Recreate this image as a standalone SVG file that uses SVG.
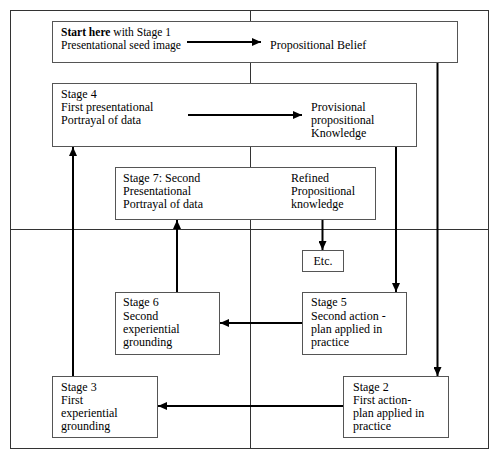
<svg xmlns="http://www.w3.org/2000/svg" width="500" height="458" viewBox="0 0 500 458">
<style>
text{font-family:"Liberation Serif","Times New Roman",serif;font-size:12px;fill:#000}
.box{fill:#fff;stroke:#555;stroke-width:1}
.grid{fill:none;stroke:#333;stroke-width:1}
.con{fill:none;stroke:#000;stroke-width:2}
</style>
<defs>
<marker id="ah" markerUnits="userSpaceOnUse" markerWidth="10" markerHeight="8" refX="9" refY="4" orient="auto">
<path d="M0,0 L9,4 L0,8 Z" fill="#000"/>
</marker>
</defs>
<g id="frame">
<rect class="grid" x="10.5" y="10.5" width="478" height="438"/>
<line class="grid" x1="250.5" y1="10" x2="250.5" y2="448"/>
<line class="grid" x1="10" y1="229.5" x2="489" y2="229.5"/>
</g>
<g id="stage1">
<rect class="box" x="52.5" y="21.5" width="405" height="41"/>
<text x="61" y="36" textLength="110" lengthAdjust="spacingAndGlyphs"><tspan font-weight="bold">Start here</tspan> with Stage 1</text>
<text x="61" y="49" textLength="120" lengthAdjust="spacingAndGlyphs">Presentational seed image</text>
<text x="270" y="49">Propositional Belief</text>
</g>
<g id="stage4">
<rect class="box" x="52.5" y="83.5" width="364" height="63"/>
<text x="61" y="98">Stage 4</text>
<text x="61" y="111">First presentational</text>
<text x="61" y="124">Portrayal of data</text>
<text x="311" y="111">Provisional</text>
<text x="311" y="124">propositional</text>
<text x="311" y="137">Knowledge</text>
</g>
<g id="stage7">
<rect class="box" x="115.5" y="167.5" width="260" height="52"/>
<text x="123" y="182">Stage 7: Second</text>
<text x="123" y="195">Presentational</text>
<text x="123" y="208">Portrayal of data</text>
<text x="291" y="182">Refined</text>
<text x="291" y="195">Propositional</text>
<text x="291" y="208">knowledge</text>
</g>
<g id="etc">
<rect class="box" x="302.5" y="250.5" width="41" height="21"/>
<text x="323" y="265" text-anchor="middle">Etc.</text>
</g>
<g id="stage6">
<rect class="box" x="115.5" y="292.5" width="104" height="62"/>
<text x="123" y="306">Stage 6</text>
<text x="123" y="320">Second</text>
<text x="123" y="333">experiential</text>
<text x="123" y="346">grounding</text>
</g>
<g id="stage5">
<rect class="box" x="302.5" y="292.5" width="104" height="62"/>
<text x="311" y="306">Stage 5</text>
<text x="311" y="320">Second action -</text>
<text x="311" y="333">plan applied in</text>
<text x="311" y="346">practice</text>
</g>
<g id="stage3">
<rect class="box" x="52.5" y="376.5" width="105" height="61"/>
<text x="61" y="391">Stage 3</text>
<text x="61" y="404">First</text>
<text x="61" y="417">experiential</text>
<text x="61" y="430">grounding</text>
</g>
<g id="stage2">
<rect class="box" x="343.5" y="376.5" width="105" height="61"/>
<text x="353" y="391">Stage 2</text>
<text x="353" y="404">First action-</text>
<text x="353" y="417">plan applied in</text>
<text x="353" y="430">practice</text>
</g>
<g id="connectors">
<line class="con" x1="187" y1="42" x2="261" y2="42" marker-end="url(#ah)"/>
<line class="con" x1="188" y1="115" x2="302" y2="115" marker-end="url(#ah)"/>
<line class="con" x1="437.5" y1="63" x2="437.5" y2="376" marker-end="url(#ah)"/>
<line class="con" x1="396" y1="147" x2="396" y2="292" marker-end="url(#ah)"/>
<line class="con" x1="322.5" y1="220" x2="322.5" y2="250" marker-end="url(#ah)"/>
<line class="con" x1="177" y1="292" x2="177" y2="220" marker-end="url(#ah)"/>
<line class="con" x1="302" y1="323" x2="220" y2="323" marker-end="url(#ah)"/>
<line class="con" x1="343" y1="406" x2="158" y2="406" marker-end="url(#ah)"/>
<line class="con" x1="73" y1="376" x2="73" y2="147" marker-end="url(#ah)"/>
</g>
</svg>
